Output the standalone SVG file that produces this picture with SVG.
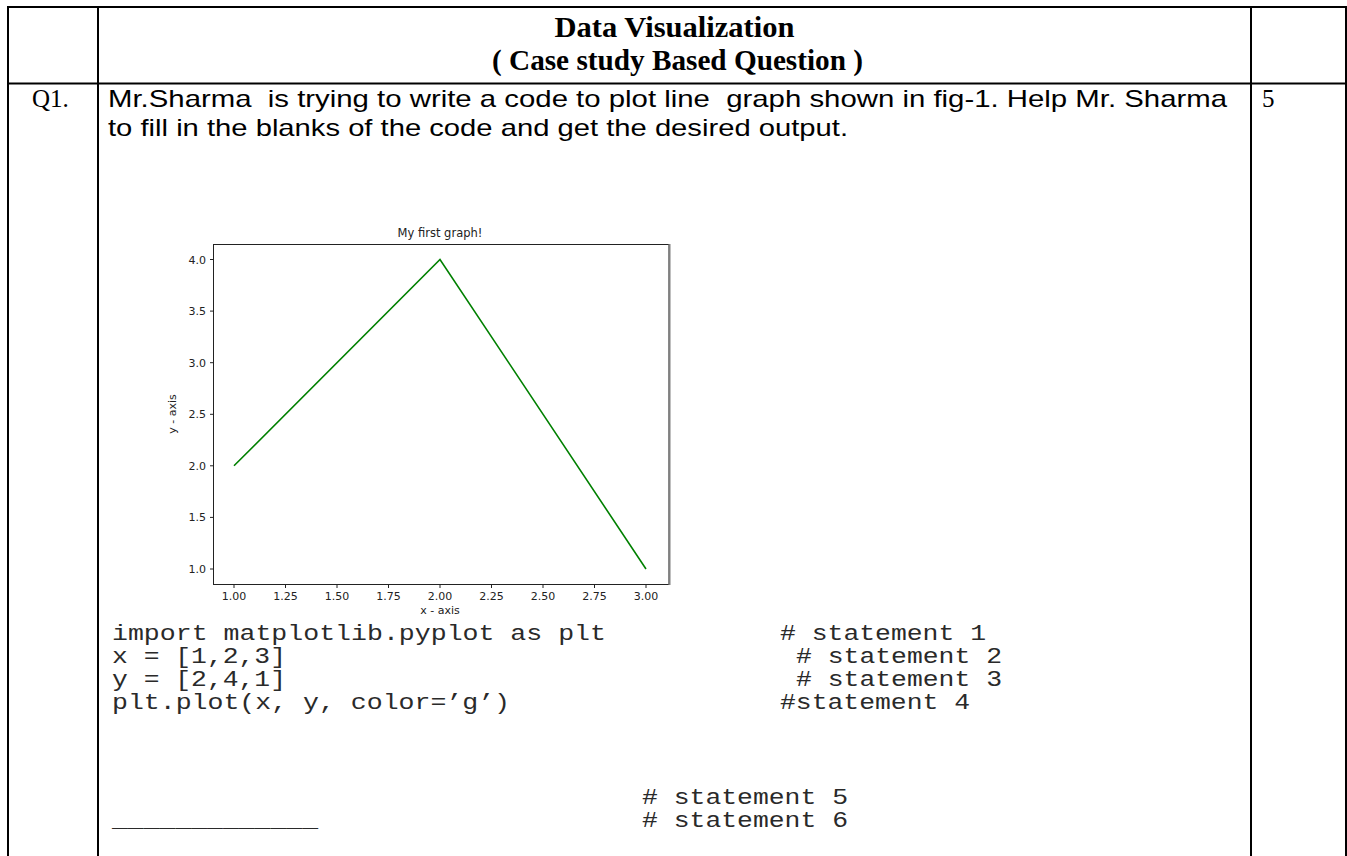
<svg xmlns="http://www.w3.org/2000/svg" width="1347" height="856" viewBox="0 0 1347 856">
<style>
.rule{stroke:#000;stroke-width:2;fill:none}
.hdr{font-family:"Liberation Serif","Times New Roman",serif;font-weight:bold;font-size:29px;fill:#000}
.ser{font-family:"Liberation Serif","Times New Roman",serif;font-size:25px;fill:#000}
.body{font-family:"Liberation Sans",Arial,sans-serif;font-size:24px;fill:#000;white-space:pre}
.code{font-family:"Liberation Mono","Courier New",monospace;font-size:22px;fill:#2a2a2a;white-space:pre}
.tk{font-family:"DejaVu Sans",sans-serif;font-size:11px;fill:#222}
.ttl{font-family:"DejaVu Sans",sans-serif;font-size:11.5px;fill:#222}
.tick{stroke:#222;stroke-width:1}
</style>
<rect width="1347" height="856" fill="#fff"/>
<g id="table">
<line class="rule" x1="7" y1="7" x2="1347" y2="7"/>
<line class="rule" x1="7" y1="83.5" x2="1347" y2="83.5"/>
<line class="rule" x1="8" y1="6" x2="8" y2="856"/>
<line class="rule" x1="98" y1="6" x2="98" y2="856"/>
<line class="rule" x1="1251" y1="6" x2="1251" y2="856"/>
<line class="rule" x1="1346" y1="6" x2="1346" y2="856"/>
</g>
<g id="header">
<text class="hdr" x="674.5" y="37" text-anchor="middle" textLength="240" lengthAdjust="spacingAndGlyphs">Data Visualization</text>
<text class="hdr" x="677.5" y="70" text-anchor="middle" textLength="371" lengthAdjust="spacingAndGlyphs">( Case study Based Question )</text>
</g>
<g id="question">
<text class="ser" x="32" y="107">Q1.</text>
<text class="body" x="108" y="107" textLength="1119" lengthAdjust="spacingAndGlyphs">Mr.Sharma  is trying to write a code to plot line  graph shown in fig-1. Help Mr. Sharma</text>
<text class="body" x="108" y="136" textLength="740" lengthAdjust="spacingAndGlyphs">to fill in the blanks of the code and get the desired output.</text>
<text class="ser" x="1262" y="107">5</text>
</g>
<g id="chart">
<text class="ttl" x="440" y="237" text-anchor="middle">My first graph!</text>
<rect x="213.5" y="244.5" width="455.5" height="340" fill="#fff" stroke="#222" stroke-width="1"/>
<line x1="669.5" y1="244" x2="669.5" y2="585" stroke="#808080" stroke-width="2"/>
<polyline points="234,465.8 440,259.5 646,569" fill="none" stroke="#008000" stroke-width="1.6"/>
<g id="yticks">
<line class="tick" x1="210" y1="569" x2="213.5" y2="569"/>
<line class="tick" x1="210" y1="517.4" x2="213.5" y2="517.4"/>
<line class="tick" x1="210" y1="465.8" x2="213.5" y2="465.8"/>
<line class="tick" x1="210" y1="414.3" x2="213.5" y2="414.3"/>
<line class="tick" x1="210" y1="362.7" x2="213.5" y2="362.7"/>
<line class="tick" x1="210" y1="311.1" x2="213.5" y2="311.1"/>
<line class="tick" x1="210" y1="259.5" x2="213.5" y2="259.5"/>
<text class="tk" x="206" y="573" text-anchor="end">1.0</text>
<text class="tk" x="206" y="521.4" text-anchor="end">1.5</text>
<text class="tk" x="206" y="469.8" text-anchor="end">2.0</text>
<text class="tk" x="206" y="418.3" text-anchor="end">2.5</text>
<text class="tk" x="206" y="366.7" text-anchor="end">3.0</text>
<text class="tk" x="206" y="315.1" text-anchor="end">3.5</text>
<text class="tk" x="206" y="263.5" text-anchor="end">4.0</text>
</g>
<g id="xticks">
<line class="tick" x1="234" y1="584.5" x2="234" y2="588"/>
<line class="tick" x1="285.5" y1="584.5" x2="285.5" y2="588"/>
<line class="tick" x1="337" y1="584.5" x2="337" y2="588"/>
<line class="tick" x1="388.5" y1="584.5" x2="388.5" y2="588"/>
<line class="tick" x1="440" y1="584.5" x2="440" y2="588"/>
<line class="tick" x1="491.5" y1="584.5" x2="491.5" y2="588"/>
<line class="tick" x1="543" y1="584.5" x2="543" y2="588"/>
<line class="tick" x1="594.5" y1="584.5" x2="594.5" y2="588"/>
<line class="tick" x1="646" y1="584.5" x2="646" y2="588"/>
<text class="tk" x="234" y="600" text-anchor="middle">1.00</text>
<text class="tk" x="285.5" y="600" text-anchor="middle">1.25</text>
<text class="tk" x="337" y="600" text-anchor="middle">1.50</text>
<text class="tk" x="388.5" y="600" text-anchor="middle">1.75</text>
<text class="tk" x="440" y="600" text-anchor="middle">2.00</text>
<text class="tk" x="491.5" y="600" text-anchor="middle">2.25</text>
<text class="tk" x="543" y="600" text-anchor="middle">2.50</text>
<text class="tk" x="594.5" y="600" text-anchor="middle">2.75</text>
<text class="tk" x="646" y="600" text-anchor="middle">3.00</text>
</g>
<text class="tk" x="440" y="614" text-anchor="middle">x - axis</text>
<text class="tk" x="0" y="0" text-anchor="middle" transform="translate(176,414) rotate(-90)">y - axis</text>
</g>
<g id="code">
<text class="code" x="112" y="640" textLength="494" lengthAdjust="spacingAndGlyphs">import matplotlib.pyplot as plt</text>
<text class="code" x="780" y="640" textLength="206" lengthAdjust="spacingAndGlyphs"># statement 1</text>
<text class="code" x="112" y="663" textLength="174" lengthAdjust="spacingAndGlyphs">x = [1,2,3]</text>
<text class="code" x="796" y="663" textLength="206" lengthAdjust="spacingAndGlyphs"># statement 2</text>
<text class="code" x="112" y="686" textLength="174" lengthAdjust="spacingAndGlyphs">y = [2,4,1]</text>
<text class="code" x="796" y="686" textLength="206" lengthAdjust="spacingAndGlyphs"># statement 3</text>
<text class="code" x="112" y="709" textLength="398" lengthAdjust="spacingAndGlyphs">plt.plot(x, y, color=’g’)</text>
<text class="code" x="780" y="709" textLength="190" lengthAdjust="spacingAndGlyphs">#statement 4</text>
<text class="code" x="642" y="804" textLength="206" lengthAdjust="spacingAndGlyphs"># statement 5</text>
<text class="code" x="112" y="827" textLength="206" lengthAdjust="spacingAndGlyphs">_____________</text>
<text class="code" x="642" y="827" textLength="206" lengthAdjust="spacingAndGlyphs"># statement 6</text>
</g>
</svg>
